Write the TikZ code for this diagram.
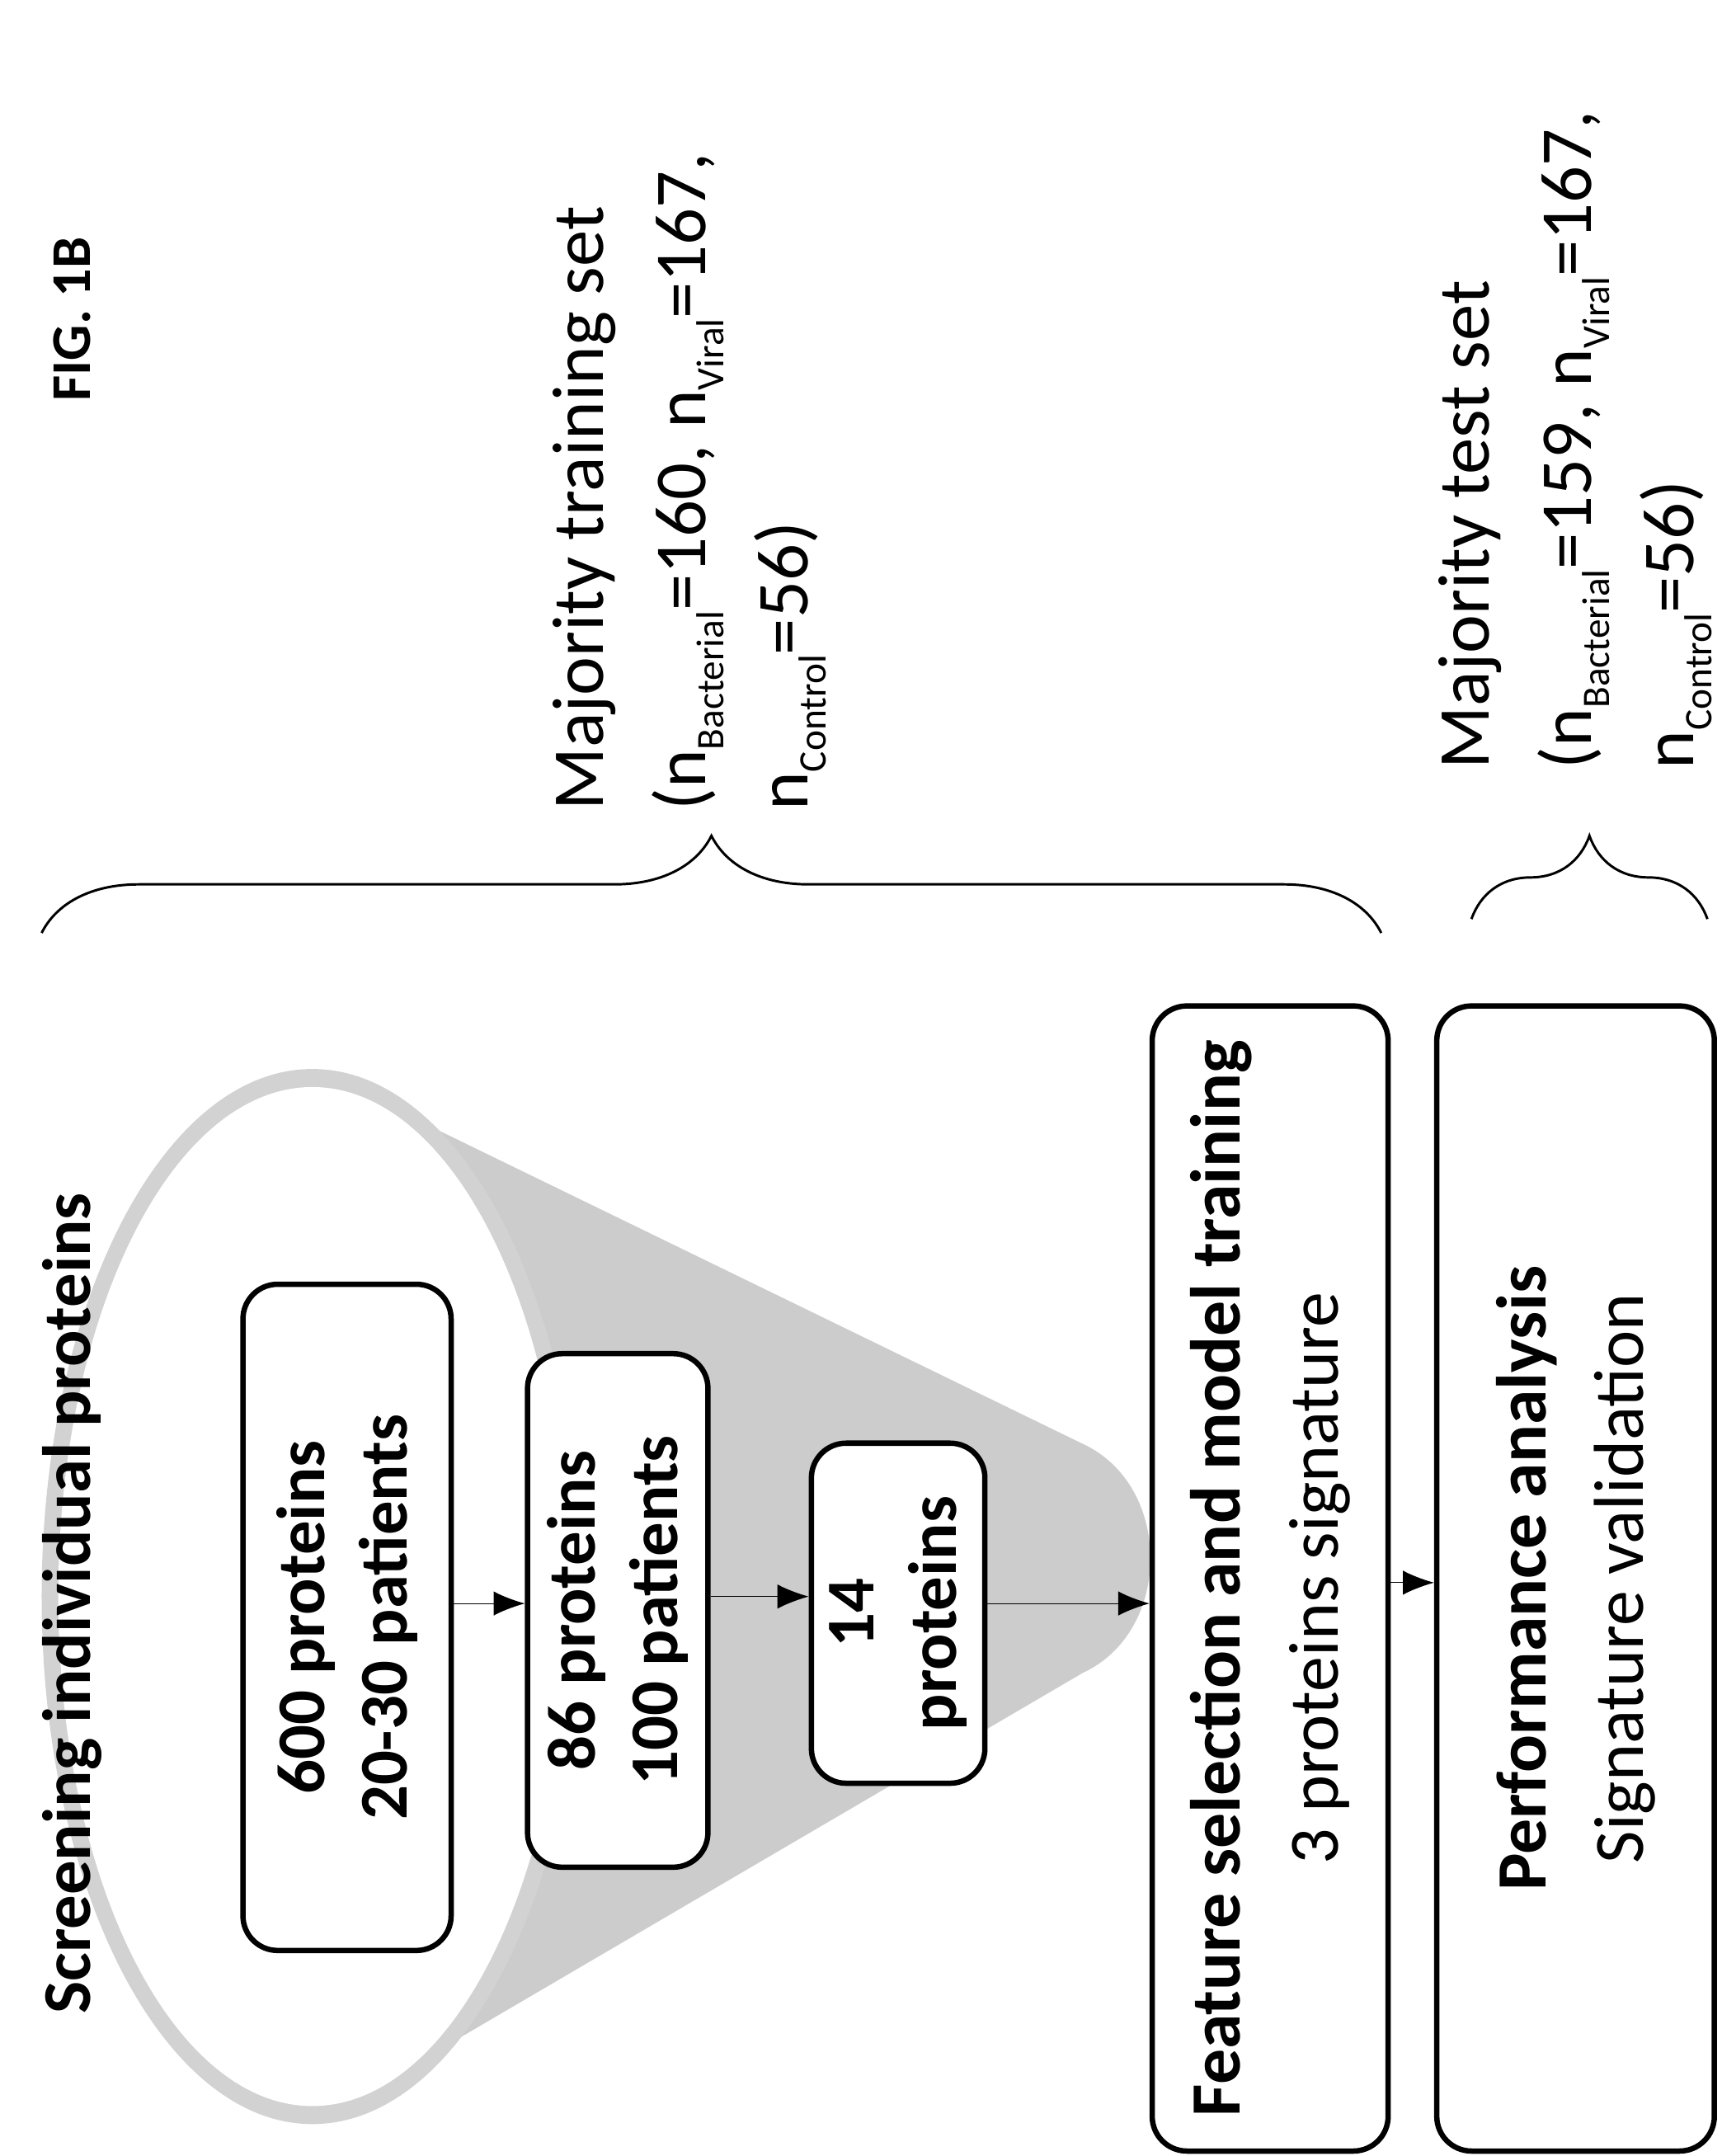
\documentclass[tikz,border=0pt]{standalone}
\usepackage{fontspec}
\setmainfont{Carlito}
\usetikzlibrary{decorations.pathreplacing,arrows.meta}
\newcommand{\mysub}[1]{\raisebox{-0.25em}{\fontsize{16}{16}\selectfont #1}}
\begin{document}
\begin{tikzpicture}[x=0.02cm,y=-0.02cm,
  box/.style={draw,line width=2.2pt,rounded corners=0.5cm,rotate=90,align=center,font=\fontsize{28}{34}\selectfont\bfseries},
  bigbox/.style={draw,line width=2.2pt,rounded corners=0.5cm,rotate=90,align=center,font=\fontsize{29}{40}\selectfont},
  arr/.style={-{Latex[length=0.45cm,width=0.35cm]},line width=0.4pt},
  lbl/.style={rotate=90,align=left,anchor=north west,font=\fontsize{30}{42}\selectfont},
  brace/.style={decorate,decoration={brace,amplitude=1.2cm},line width=1pt}]
\useasboundingbox (0,0) rectangle (1240,1553);
% funnel
\fill[gray!40] (225,770) -- (780,1040) .. controls (845,1070) and (845,1175) .. (780,1205) -- (225,1530) -- cycle;
\fill[gray!35] (225,1150) ellipse [x radius=195, y radius=380];
\fill[white] (225,1150) ellipse [x radius=183, y radius=367];
% boxes
\node[box,fill=white,minimum width=9.6cm,minimum height=3.0cm] (b1) at (250,1165) {600 proteins\\20-30 patients};
\node[box,fill=white,minimum width=7.4cm,minimum height=2.6cm] (b2) at (445,1160) {86 proteins\\100 patients};
\node[box,fill=white,minimum width=4.9cm,minimum height=2.5cm] (b3) at (647,1162) {14\\proteins};
\node[bigbox,fill=white,minimum width=16.5cm,minimum height=3.4cm] (b4) at (915,1137) {\textbf{Feature selection and model training}\\3 proteins signature};
\node[bigbox,fill=white,minimum width=16.5cm,minimum height=4.0cm] (b5) at (1135,1137) {\textbf{Performance analysis}\\Signature validation};
\draw[arr] (b1.south |- 0,1155) -- (b2.north |- 0,1155);
\draw[arr] (b2.south |- 0,1150) -- (b3.north |- 0,1150);
\draw[arr] (b3.south |- 0,1155) -- (b4.north |- 0,1155);
\draw[arr] (b4.south |- 0,1140) -- (b5.north |- 0,1140);
% titles
\node[rotate=90,font=\fontsize{28}{32}\selectfont\bfseries] (t1) at (52,1155) {Screening individual proteins};
\node[rotate=90,font=\fontsize{23}{26}\selectfont\bfseries] (fig) at (52,230) {FIG. 1B};
% braces
\coordinate (a1) at (30,672); \coordinate (a2) at (995,672);
\draw[brace,decoration={amplitude=1.4cm}] (a1) -- (a2);
\coordinate (c1) at (1060,662); \coordinate (c2) at (1230,662);
\draw[brace] (c1) -- (c2);
% labels
\node[lbl] (L1) at (392,590) {Majority training set\\(n\mysub{Bacterial}=160, n\mysub{Viral}=167,\\n\mysub{Control}=56)};
\node[lbl] (L2) at (1030,560) {Majority test set\\(n\mysub{Bacterial}=159, n\mysub{Viral}=167,\\n\mysub{Control}=56)};
\end{tikzpicture}
\end{document}
